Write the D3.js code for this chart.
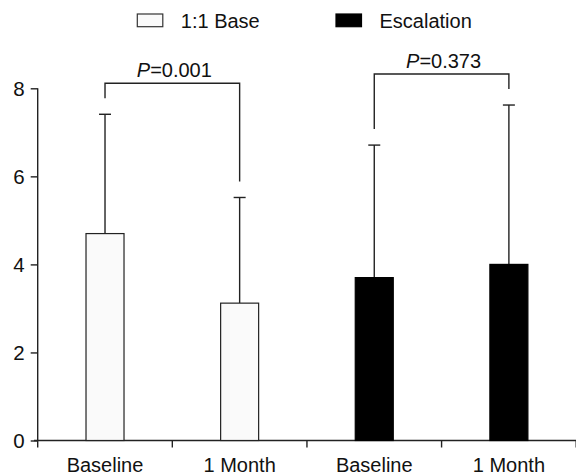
<!DOCTYPE html>
<html><head><meta charset="utf-8">
<script src="https://cdn.jsdelivr.net/npm/d3@7"></script>
<style>body{margin:0;background:#fff}svg{display:block}text{font-family:"Liberation Sans",Arial,sans-serif;fill:#111}</style>
</head><body>
<script>
const categories = ["Baseline", "1 Month", "Baseline", "1 Month"];
const groups = ["1:1 Base", "1:1 Base", "Escalation", "Escalation"];
const means = [4.70, 3.12, 3.70, 4.00];
const sdUpper = [7.41, 5.52, 6.71, 7.62];
const yTicks = [0, 2, 4, 6, 8];
const legendLabels = ["1:1 Base", "Escalation"];
const legendColors = ["#fafafa", "#000000"];
const comparisons = [[0, 1, "0.001"], [2, 3, "0.373"]];

const W = 576, H = 475;
const svg = d3.select("body").append("svg").attr("width", W).attr("height", H);
const x = d3.scaleBand().domain(d3.range(categories.length)).range([37.7, 576.2]).padding(0);
const y = d3.scaleLinear().domain([0, 8]).range([440.5, 88.3]);
const color = d3.scaleOrdinal().domain(legendLabels).range(legendColors);
const barW = 38;
const lineCol = "#222";

// y axis
const ya = svg.append("g").attr("transform", "translate(37.7,0)")
  .call(d3.axisLeft(y).tickValues(yTicks).tickSize(7).tickPadding(6).tickFormat(d3.format("d")));
ya.select(".domain").attr("d", `M0,${y(0)}V${y(8)}`).attr("stroke", lineCol).attr("stroke-width", 1.4);
ya.selectAll(".tick line").attr("stroke", lineCol).attr("stroke-width", 1.4);
ya.selectAll(".tick text").style("font-size", "20.5px").attr("fill", "#111").attr("dy", "0.34em");

// x axis
const xa = svg.append("g").attr("transform", `translate(0,${y(0)})`);
xa.append("line").attr("x1", 34).attr("x2", 576).attr("y1", 0).attr("y2", 0).attr("stroke", lineCol).attr("stroke-width", 1.4);
xa.selectAll("line.tk").data(d3.range(categories.length + 1)).join("line").attr("class", "tk")
  .attr("x1", i => i < categories.length ? x(i) : x(categories.length - 1) + x.bandwidth())
  .attr("x2", i => i < categories.length ? x(i) : x(categories.length - 1) + x.bandwidth())
  .attr("y1", 0).attr("y2", 7).attr("stroke", lineCol).attr("stroke-width", 1.4);
xa.selectAll("text").data(categories).join("text")
  .attr("x", (d, i) => x(i) + x.bandwidth() / 2).attr("y", 31.5)
  .attr("text-anchor", "middle").style("font-size", "20px").text(d => d);

// error bars
const cx = i => x(i) + x.bandwidth() / 2;
svg.selectAll("line.err").data(means).join("line").attr("class", "err")
  .attr("x1", (d, i) => cx(i)).attr("x2", (d, i) => cx(i))
  .attr("y1", d => y(d)).attr("y2", (d, i) => y(sdUpper[i]))
  .attr("stroke", lineCol).attr("stroke-width", 1.4);
svg.selectAll("line.cap").data(sdUpper).join("line").attr("class", "cap")
  .attr("x1", (d, i) => cx(i) - 6).attr("x2", (d, i) => cx(i) + 6)
  .attr("y1", d => y(d)).attr("y2", d => y(d))
  .attr("stroke", lineCol).attr("stroke-width", 1.4);

// bars
svg.selectAll("rect.bar").data(means).join("rect").attr("class", "bar")
  .attr("x", (d, i) => cx(i) - barW / 2).attr("width", barW)
  .attr("y", d => y(d)).attr("height", d => y(0) - y(d))
  .attr("fill", (d, i) => color(groups[i]))
  .attr("stroke", (d, i) => groups[i] === legendLabels[0] ? "#222" : "#000").attr("stroke-width", 1.2);

// comparison brackets
comparisons.forEach(([a, b, p]) => {
  const ca = y(sdUpper[a]), cb = y(sdUpper[b]);
  const top = Math.min(ca, cb) - 31;
  svg.append("path")
    .attr("d", `M${cx(a)},${ca - 16}V${top}H${cx(b)}V${cb - 16}`)
    .attr("fill", "none").attr("stroke", lineCol).attr("stroke-width", 1.4);
  const t = svg.append("text").attr("x", (cx(a) + cx(b)) / 2 + 2).attr("y", top - 6.5)
    .attr("text-anchor", "middle").style("font-size", "20px");
  t.append("tspan").attr("font-style", "italic").text("P");
  t.append("tspan").text("=" + p);
});

// legend
const legX = [137.3, 336];
legendLabels.forEach((l, i) => {
  svg.append("rect").attr("x", legX[i]).attr("y", 14).attr("width", 25.5).attr("height", 12.7)
    .attr("fill", legendColors[i]).attr("stroke", i === 0 ? "#333" : "#000").attr("stroke-width", 1.2);
  svg.append("text").attr("x", legX[i] + 43.5).attr("y", 27.5).style("font-size", "20px").text(l);
});
</script>
</body></html>
